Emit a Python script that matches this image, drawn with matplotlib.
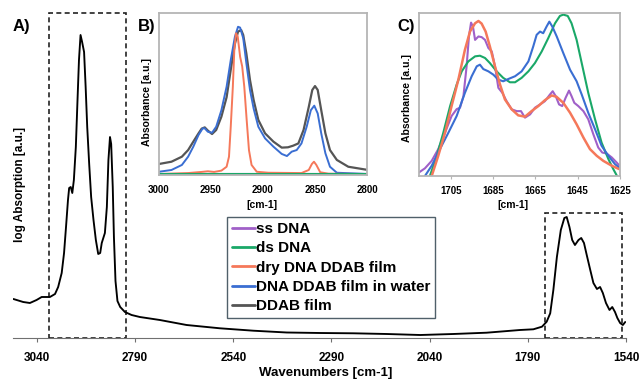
import matplotlib
matplotlib.use('Agg')
from matplotlib import pyplot as plt
import matplotlib.patches as mpatches

plt.rcParams['font.family'] = ['Liberation Sans', 'DejaVu Sans']
plt.rcParams['font.weight'] = 'bold'
plt.rcParams['lines.solid_joinstyle'] = 'round'
plt.rcParams['lines.solid_capstyle'] = 'round'

# main spectrum (A)
main_wn = [3100, 3075, 3058, 3041, 3028, 3015, 3007, 2994, 2986, 2977, 2971, 2966,
           2961, 2958, 2954, 2950, 2946, 2941, 2937, 2933, 2929, 2925, 2920, 2916,
           2912, 2907, 2902, 2896, 2890, 2884, 2879, 2875, 2871, 2867, 2862, 2858,
           2854, 2851, 2847, 2844, 2840, 2835, 2828, 2816, 2799, 2778, 2727, 2659,
           2574, 2489, 2404, 2319, 2234, 2149, 2064, 1980, 1895, 1810, 1776, 1754,
           1742, 1733, 1725, 1716, 1706, 1697, 1691, 1684, 1677, 1670, 1661, 1654,
           1647, 1640, 1631, 1623, 1614, 1606, 1599, 1591, 1582, 1575, 1568, 1562,
           1555, 1548, 1542]
main_abs = [0.39, 0.36, 0.35, 0.38, 0.41, 0.41, 0.41, 0.44, 0.51, 0.65, 0.85, 1.11,
            1.38, 1.50, 1.51, 1.45, 1.58, 1.91, 2.35, 2.78, 3.03, 2.96, 2.86, 2.51,
            2.11, 1.74, 1.41, 1.18, 0.98, 0.84, 0.85, 0.95, 1.00, 1.05, 1.31, 1.78,
            2.01, 1.94, 1.51, 1.01, 0.57, 0.37, 0.31, 0.26, 0.23, 0.21, 0.18, 0.13,
            0.097, 0.073, 0.055, 0.05, 0.047, 0.04, 0.03, 0.04, 0.053, 0.08, 0.087, 0.113,
            0.163, 0.247, 0.48, 0.81, 1.08, 1.20, 1.21, 1.11, 0.98, 0.93, 0.98, 1.00,
            0.95, 0.83, 0.68, 0.55, 0.49, 0.51, 0.45, 0.35, 0.28, 0.31, 0.26, 0.20,
            0.15, 0.13, 0.16]
main_ticks = [3040, 2790, 2540, 2290, 2040, 1790, 1540]

# inset B: CH stretch region
b_gray_wn = [3000, 2988, 2978, 2972, 2967, 2962, 2959, 2956, 2953, 2949, 2945, 2940,
             2935, 2931, 2927, 2924, 2921, 2919, 2916, 2912.5, 2909, 2904.5, 2898, 2890,
             2882, 2876, 2871, 2866, 2861, 2856, 2852.6, 2850, 2847.4, 2844, 2840,
             2835.6, 2829, 2818, 2799]
b_gray = [0.068, 0.082, 0.113, 0.154, 0.206, 0.257, 0.286, 0.294, 0.274, 0.253, 0.278,
          0.36, 0.48, 0.65, 0.81, 0.885, 0.895, 0.864, 0.75, 0.586, 0.463, 0.34, 0.257,
          0.206, 0.169, 0.171, 0.181, 0.195, 0.278, 0.42, 0.525, 0.549, 0.525, 0.40,
          0.257, 0.154, 0.093, 0.051, 0.031]
b_blue_wn = [3000, 2988, 2978, 2972, 2967, 2962, 2958, 2956, 2953, 2949, 2945, 2940,
             2935, 2931, 2927, 2924, 2922, 2919, 2916, 2912.5, 2909, 2904.5, 2898, 2890,
             2882, 2877, 2872.4, 2867.6, 2863, 2858, 2854, 2850.7, 2847.4, 2844, 2840,
             2835.6, 2829, 2799]
b_blue = [0.02, 0.031, 0.062, 0.113, 0.175, 0.247, 0.288, 0.288, 0.267, 0.261, 0.298,
          0.40, 0.545, 0.71, 0.854, 0.915, 0.91, 0.844, 0.69, 0.525, 0.41, 0.298, 0.226,
          0.175, 0.13, 0.117, 0.144, 0.154, 0.195, 0.298, 0.40, 0.428, 0.38, 0.257,
          0.134, 0.051, 0.014, 0.006]
b_red_wn = [3000, 2972, 2959, 2953, 2947, 2940, 2935, 2932.7, 2931, 2929, 2927.6, 2926,
            2924.3, 2922, 2920, 2918, 2915.7, 2913.5, 2911, 2906, 2895, 2863, 2856,
            2853, 2851, 2848.7, 2845, 2837, 2799]
b_red = [0.006, 0.012, 0.019, 0.023, 0.019, 0.027, 0.051, 0.113, 0.30, 0.545, 0.77,
         0.875, 0.854, 0.73, 0.67, 0.545, 0.34, 0.154, 0.062, 0.02, 0.014, 0.012, 0.031,
         0.068, 0.082, 0.062, 0.017, 0.008, 0.006]
b_flat_wn = [3000, 2800]
b_flat = [0.004, 0.004]
b_ticks = [3000, 2950, 2900, 2850, 2800]

# inset C: amide region
c_ss_wn = [1720.0, 1717.2, 1714.0, 1710.9, 1707.7, 1704.6, 1702.2, 1700.6, 1699.0,
           1697.5, 1696.4, 1695.4, 1694.5, 1693.5, 1691.9, 1690.4, 1688.8, 1687.2,
           1685.6, 1684.1, 1682.5, 1680.6, 1678.6, 1676.2, 1673.8, 1671.8, 1669.9,
           1667.5, 1665.2, 1662.8, 1660.5, 1658.1, 1656.8, 1655.4, 1653.8, 1652.3,
           1650.7, 1649.1, 1647.9, 1646.6, 1644.7, 1642.3, 1640.0, 1637.6, 1635.3,
           1633.4, 1631.3, 1628.9, 1626.6, 1625.5]
c_ss = [0.022, 0.047, 0.093, 0.165, 0.266, 0.368, 0.41, 0.419, 0.49, 0.673, 0.856,
        0.941, 0.917, 0.835, 0.856, 0.852, 0.835, 0.785, 0.764, 0.673, 0.541, 0.51,
        0.459, 0.409, 0.398, 0.398, 0.358, 0.378, 0.419, 0.439, 0.459, 0.50, 0.52,
        0.49, 0.439, 0.429, 0.48, 0.524, 0.49, 0.449, 0.429, 0.398, 0.348, 0.256,
        0.175, 0.144, 0.138, 0.114, 0.083, 0.067]
c_ds_wn = [1714.8, 1711.6, 1708.5, 1705.3, 1702.2, 1699.8, 1696.7, 1693.5, 1691.2,
           1688.8, 1686.5, 1683.3, 1680.2, 1677.0, 1674.6, 1671.5, 1668.3, 1665.2,
           1662.0, 1658.9, 1655.7, 1653.4, 1651.8, 1649.7, 1647.9, 1645.5, 1643.1,
           1640.0, 1636.8, 1633.7, 1630.5, 1628.2, 1626.4, 1625.0]
c_ds = [0.002, 0.124, 0.266, 0.429, 0.561, 0.642, 0.703, 0.734, 0.738, 0.724, 0.693,
        0.642, 0.602, 0.575, 0.575, 0.602, 0.642, 0.693, 0.764, 0.846, 0.937, 0.982,
        0.99, 0.982, 0.937, 0.835, 0.693, 0.51, 0.348, 0.205, 0.104, 0.043, 0.0, -0.03]
c_dry_wn = [1714.0, 1710.9, 1707.7, 1704.6, 1701.4, 1698.3, 1695.9, 1693.5, 1691.9,
            1690.4, 1688.5, 1686.5, 1684.1, 1681.7, 1679.4, 1676.2, 1673.1, 1669.9,
            1666.8, 1663.6, 1660.5, 1657.3, 1655.0, 1651.8, 1648.6, 1645.5, 1642.3,
            1639.2, 1636.0, 1632.9, 1628.9, 1625.5]
c_dry = [0.0, 0.124, 0.266, 0.429, 0.591, 0.774, 0.886, 0.937, 0.951, 0.935, 0.886,
         0.795, 0.673, 0.561, 0.47, 0.409, 0.372, 0.364, 0.398, 0.429, 0.465, 0.494,
         0.486, 0.449, 0.388, 0.317, 0.236, 0.165, 0.124, 0.093, 0.063, 0.043]
c_wet_wn = [1717.2, 1714.0, 1710.1, 1706.1, 1702.2, 1698.3, 1695.1, 1692.7, 1691.2,
            1689.6, 1687.2, 1684.9, 1682.5, 1680.2, 1677.8, 1674.6, 1671.5, 1668.3,
            1666.0, 1664.4, 1662.8, 1661.3, 1659.7, 1658.4, 1657.0, 1654.9, 1651.8,
            1648.6, 1645.5, 1643.1, 1640.0, 1636.8, 1633.7, 1630.5, 1627.4, 1625.5]
c_wet = [0.0, 0.063, 0.165, 0.266, 0.368, 0.51, 0.612, 0.673, 0.683, 0.656, 0.642,
         0.622, 0.591, 0.581, 0.595, 0.612, 0.642, 0.703, 0.795, 0.866, 0.886, 0.876,
         0.917, 0.947, 0.917, 0.856, 0.754, 0.652, 0.581, 0.50, 0.388, 0.287, 0.185,
         0.124, 0.073, 0.053]
c_ticks = [1705, 1685, 1665, 1645, 1625]

labels = ['ss DNA', 'ds DNA', 'dry DNA DDAB film', 'DNA DDAB film in water', 'DDAB film']
c_purple = '#a060c8'
c_green = '#1aa868'
c_red = '#f5785a'
c_blue = '#3a6ed2'
c_gray = '#555555'

fig = plt.figure(figsize=(6.4, 3.79), dpi=100)
W, H = 640.0, 379.0

ax = fig.add_axes([13 / W, 41 / H, 613 / W, 328 / H])
ax.plot(main_wn, main_abs, color='black', lw=1.35)
ax.set_xlim(3101, 1540)
ax.set_ylim(0, 3.28)
for s in ['top', 'right', 'left']:
    ax.spines[s].set_visible(False)
ax.spines['bottom'].set_color('#707070')
ax.set_yticks([])
ax.set_xticks(main_ticks)
ax.tick_params(axis='x', length=3, color='#707070', labelsize=8.5, pad=7)
ax.add_patch(mpatches.Rectangle((3009, 0), 2813 - 3009, 3.25, fill=False,
                                ls=(0, (3, 2)), lw=1.2, ec='#222222', clip_on=False))
ax.add_patch(mpatches.Rectangle((1746, 0), 1551 - 1746, 1.25, fill=False,
                                ls=(0, (3, 2)), lw=1.2, ec='#222222', clip_on=False))
fig.text(20 / W, 1 - 185 / H, 'log Absorption [a.u.]', rotation=90, ha='center',
         va='center', fontsize=8.5)
fig.text(326 / W, 1 - 373 / H, 'Wavenumbers [cm-1]', ha='center', va='center', fontsize=9.5)
fig.text(21 / W, 1 - 26 / H, 'A)', ha='center', va='center', fontsize=12)

# inset B
axb = fig.add_axes([159 / W, 204 / H, 208 / W, 162 / H])
axb.plot(b_flat_wn, b_flat, color=c_purple, lw=1.5)
axb.plot(b_gray_wn, b_gray, color=c_gray, lw=1.6)
axb.plot(b_blue_wn, b_blue, color=c_blue, lw=1.4)
axb.plot(b_red_wn, b_red, color=c_red, lw=1.4)
axb.plot(b_flat_wn, b_flat, color=c_green, lw=2.2)
axb.set_xlim(3000, 2800)
axb.set_ylim(0, 1)
axb.set_yticks([])
axb.set_xticks(b_ticks)
axb.tick_params(axis='x', length=0, labelsize=7, pad=7)
for s in axb.spines.values():
    s.set_color('#b5b5b5')
    s.set_linewidth(1.3)
fig.text(147 / W, 1 - 102 / H, 'Absorbance [a.u.]', rotation=90, ha='center',
         va='center', fontsize=7.5)
fig.text(262 / W, 1 - 205 / H, '[cm-1]', ha='center', va='center', fontsize=7.5)
fig.text(147 / W, 1 - 26 / H, 'B)', ha='center', va='center', fontsize=12)

# inset C
axc = fig.add_axes([419 / W, 203 / H, 201 / W, 163 / H])
axc.plot(c_ss_wn, c_ss, color=c_purple, lw=1.5)
axc.plot(c_ds_wn, c_ds, color=c_green, lw=1.5)
axc.plot(c_wet_wn, c_wet, color=c_blue, lw=1.5)
axc.plot(c_dry_wn, c_dry, color=c_red, lw=1.8)
axc.set_xlim(1720, 1625)
axc.set_ylim(0, 1)
axc.set_yticks([])
axc.set_xticks(c_ticks)
axc.tick_params(axis='x', length=2, color='#b5b5b5', labelsize=7, pad=5)
for s in axc.spines.values():
    s.set_color('#b5b5b5')
    s.set_linewidth(1.3)
fig.text(407 / W, 1 - 98 / H, 'Absorbance [a.u.]', rotation=90, ha='center',
         va='center', fontsize=7.5)
fig.text(513 / W, 1 - 205 / H, '[cm-1]', ha='center', va='center', fontsize=7.5)
fig.text(406 / W, 1 - 27 / H, 'C)', ha='center', va='center', fontsize=12)

handles = [plt.Line2D([], [], color=c, lw=2) for c in [c_purple, c_green, c_red, c_blue, c_gray]]
leg = fig.legend(handles=handles, labels=labels, loc='lower left',
                 bbox_to_anchor=(227 / W, 61 / H), borderaxespad=0, fontsize=11,
                 handlelength=1.5, handletextpad=0.1, labelspacing=0.35,
                 borderpad=0.3, fancybox=False, framealpha=1)
leg.get_frame().set_edgecolor('#50606a')
leg.get_frame().set_linewidth(1.0)

fig.savefig('out.png', dpi=100)
